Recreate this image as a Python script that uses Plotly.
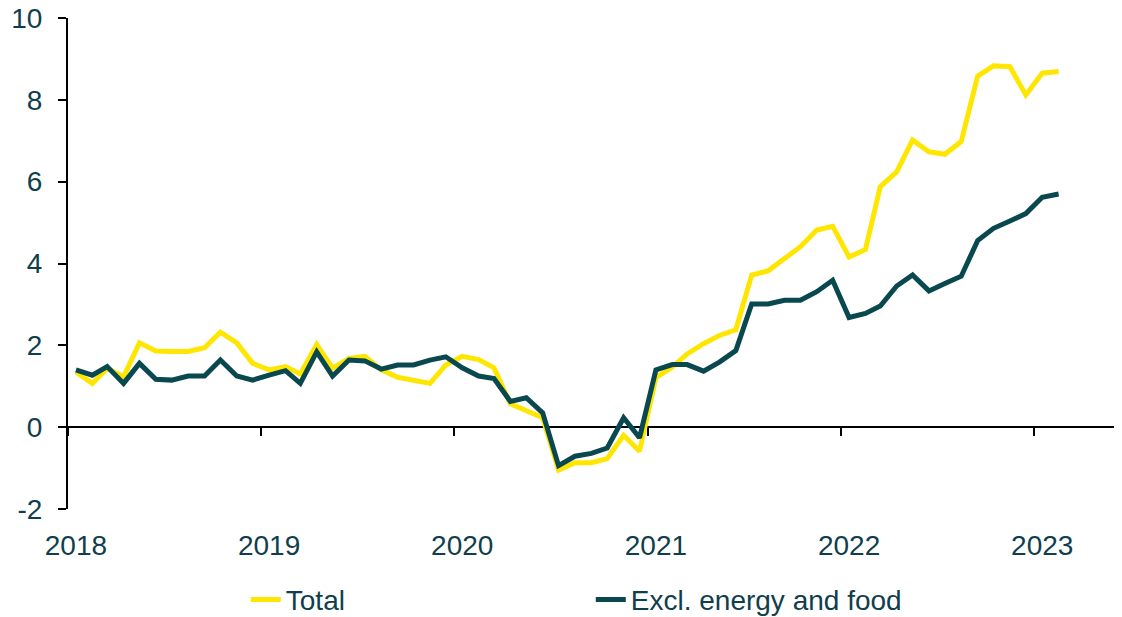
import pandas as pd
import plotly.graph_objects as go

# Monthly data, Jan 2018 - Feb 2023 (year-on-year %)
months = pd.date_range("2018-01-01", periods=62, freq="MS") + pd.Timedelta(days=15)

total = [1.35, 1.07, 1.44, 1.23, 2.06, 1.86, 1.85, 1.85, 1.94, 2.32, 2.06, 1.56,
         1.40, 1.48, 1.30, 2.02, 1.44, 1.68, 1.73, 1.40, 1.22, 1.15, 1.07, 1.52,
         1.73, 1.65, 1.45, 0.57, 0.39, 0.23, -1.05, -0.87, -0.87, -0.77, -0.20, -0.59,
         1.21, 1.47, 1.79, 2.04, 2.24, 2.38, 3.72, 3.82, 4.12, 4.41, 4.82, 4.91,
         4.16, 4.34, 5.88, 6.24, 7.02, 6.73, 6.67, 6.98, 8.58, 8.83, 8.81, 8.12,
         8.65, 8.69]

core = [1.40, 1.27, 1.48, 1.07, 1.56, 1.17, 1.15, 1.25, 1.25, 1.64, 1.25, 1.15,
        1.27, 1.38, 1.07, 1.84, 1.25, 1.64, 1.62, 1.42, 1.52, 1.52, 1.64, 1.72,
        1.45, 1.25, 1.19, 0.63, 0.72, 0.35, -0.94, -0.71, -0.64, -0.51, 0.23, -0.26,
        1.40, 1.53, 1.53, 1.37, 1.59, 1.87, 3.01, 3.01, 3.10, 3.10, 3.31, 3.59,
        2.68, 2.78, 2.96, 3.45, 3.72, 3.33, 3.51, 3.69, 4.56, 4.86, 5.04, 5.22,
        5.62, 5.70]

series_names = ["Total", "Excl. energy and food"]
year_labels = ["2018", "2019", "2020", "2021", "2022", "2023"]
year_starts = [f"{y}-01-01" for y in year_labels]
label_pos = [f"{y}-01-16" for y in year_labels]
y_ticks = [-2, 0, 2, 4, 6, 8, 10]
y_tick_text = ["-2", "0", "2", "4", "6", "8", "10"]

YELLOW = "#FFE600"
TEAL = "#0A484F"
TEXT = "#103E4C"
FONT = "Liberation Sans, Arial, sans-serif"

x_range = ["2018-01-01", "2023-06-12"]

fig = go.Figure()
fig.add_trace(go.Scatter(x=months, y=total, name=series_names[0], mode="lines",
                         line=dict(color=YELLOW, width=5), hoverinfo="skip"))
fig.add_trace(go.Scatter(x=months, y=core, name=series_names[1], mode="lines",
                         line=dict(color=TEAL, width=5), hoverinfo="skip"))
# helper (invisible) trace to carry the zero-line axis
fig.add_trace(go.Scatter(x=[months[0]], y=[0], xaxis="x2", mode="lines",
                         showlegend=False, hoverinfo="skip", opacity=0))

# the page body has an 8px margin, so the figure is sized to fit inside the window
fig.update_layout(
    width=1114, height=609,
    margin=dict(l=60, r=2, t=10, b=108, autoexpand=False),
    paper_bgcolor="white", plot_bgcolor="white",
    font=dict(family=FONT, size=28, color=TEXT),
    showlegend=True,
    legend=dict(orientation="h", x=0.169, xanchor="left", y=-0.185, yanchor="middle",
                entrywidth=300, entrywidthmode="pixels",
                font=dict(family=FONT, size=28, color=TEXT),
                bgcolor="rgba(0,0,0,0)", itemclick=False),
    xaxis=dict(type="date", range=x_range, tickvals=label_pos, ticktext=year_labels,
               showline=False, showgrid=False, zeroline=False, ticks="",
               automargin=False, ticklabeloverflow="allow",
               ticklabelstandoff=17, tickfont=dict(size=28, color=TEXT)),
    xaxis2=dict(type="date", range=x_range, overlaying="x", anchor="free",
                position=2 / 12, side="bottom", matches="x", automargin=False,
                tickvals=year_starts, showticklabels=False, ticks="outside",
                ticklen=8, tickwidth=2, tickcolor="black",
                showline=True, linecolor="black", linewidth=2,
                showgrid=False, zeroline=False, layer="below traces"),
    yaxis=dict(range=[-2, 10], tickvals=y_ticks, ticktext=y_tick_text,
               showgrid=False, zeroline=False, automargin=False,
               ticklabeloverflow="allow",
               showline=True, linecolor="black", linewidth=2, ticks="outside",
               ticklen=8, tickwidth=2, tickcolor="black", ticklabelstandoff=10,
               tickfont=dict(size=28, color=TEXT), layer="below traces"),
)

fig.write_html("out.html")
